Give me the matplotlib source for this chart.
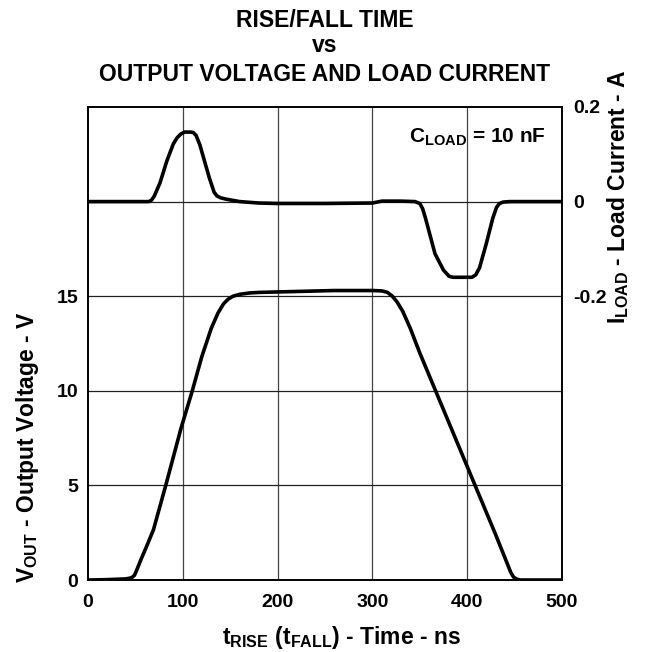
import numpy as np
import matplotlib.pyplot as plt

plt.rcParams['font.family'] = ['Liberation Sans', 'DejaVu Sans']
plt.rcParams['font.weight'] = 'bold'
plt.rcParams['mathtext.fontset'] = 'custom'
plt.rcParams['mathtext.rm'] = 'Liberation Sans:bold'
plt.rcParams['mathtext.it'] = 'Liberation Sans:bold'
plt.rcParams['mathtext.bf'] = 'Liberation Sans:bold'

# output voltage (V) vs time (ns)
t_v = [0, 20, 40, 46, 49, 52, 56, 62, 69, 82, 98, 110, 120, 130, 137, 143, 148, 153, 160, 170, 180, 220, 260,
       300, 310, 316, 321, 326, 332, 340, 350, 370, 390, 410, 430, 442, 446, 449, 452, 456, 480, 500]
v_out = [0, 0.02, 0.06, 0.12, 0.25, 0.6, 1.1, 1.8, 2.65, 5.0, 8.0, 10.0, 11.8, 13.3, 14.1, 14.6, 14.85, 15.0, 15.1, 15.17, 15.2, 15.25, 15.3,
         15.3, 15.28, 15.2, 15.0, 14.7, 14.2, 13.3, 12.0, 9.6, 7.2, 4.8, 2.4, 0.9, 0.4, 0.15, 0.05, 0.0, 0.0, 0.0]

# load current (A) vs time (ns)
t_i = [0, 40, 64, 67, 70, 76, 83, 90, 94, 98, 102, 108, 111, 114, 118, 122, 128, 133, 136, 140, 146, 160, 180, 200,
       250, 300, 310, 330, 345, 350, 353, 356, 360, 366, 375, 381, 385, 405, 409, 413, 420, 427, 431, 434, 438, 445, 470, 500]
i_load = [0, 0, 0, 0.003, 0.012, 0.04, 0.085, 0.122, 0.135, 0.143, 0.147, 0.147, 0.146, 0.14, 0.12, 0.092, 0.05, 0.02, 0.012, 0.008, 0.005, 0.0, -0.003, -0.004,
          -0.004, -0.003, 0.001, 0.001, 0.0, -0.004, -0.015, -0.035, -0.065, -0.11, -0.145, -0.158, -0.16, -0.16, -0.155, -0.14, -0.09, -0.035, -0.012, -0.004, -0.001, 0, 0, 0]

fig = plt.figure(figsize=(6.5, 6.52), dpi=100)
ax = fig.add_axes([0.1354, 0.1104, 0.7292, 0.7255])
ax2 = ax.twinx()

ax.plot(t_v, v_out, color='black', lw=2.6, solid_joinstyle='round', solid_capstyle='round')
ax2.plot(t_i, i_load, color='black', lw=2.6, solid_joinstyle='round', solid_capstyle='round')

ax.set_xlim(0, 500)
ax.set_ylim(0, 25)
ax2.set_ylim(-0.8, 0.2)

ax.set_xticks([0, 100, 200, 300, 400, 500])
ax.set_yticks([0, 5, 10, 15])
ax2.set_yticks([-0.2, 0, 0.2])
ax2.set_yticklabels(['-0.2', '0', '0.2'])

for x in [100, 200, 300, 400]:
    ax.axvline(x, color='#444444', lw=0.9, zorder=0)
for y in [5, 10, 15, 20]:
    ax.axhline(y, color='#222222', lw=0.9, zorder=0)

ax.tick_params(axis='x', length=0, labelsize=14, pad=10)
ax.tick_params(axis='y', length=0, labelsize=14, pad=7)
ax2.tick_params(length=0, labelsize=14, pad=8)
for a in (ax, ax2):
    for s in a.spines.values():
        s.set_linewidth(1.2)

ax.set_xlabel(r'$\mathregular{t_{RISE}\ (t_{FALL})}$ - Time - ns', fontsize=16.5, fontweight='bold')
ax.xaxis.set_label_coords(0.534, -0.092)
ax.set_ylabel(r'$\mathregular{V_{OUT}}$ - Output Voltage - V', fontsize=16.5, fontweight='bold', va='center')
ax.yaxis.set_label_coords(-0.128, 0.28)
ax2.set_ylabel(r'$\mathregular{I_{LOAD}}$ - Load Current - A', fontsize=16.5, fontweight='bold', va='center')
ax2.yaxis.set_label_coords(1.118, 0.81)

ax.text(0.965, 0.935, r'$\mathregular{C_{LOAD}}$ = 10 nF', transform=ax.transAxes,
        ha='right', va='center', fontsize=15, fontweight='bold')

fig.text(0.5, 0.969, 'RISE/FALL TIME', ha='center', va='center', fontsize=16.5, fontweight='bold')
fig.text(0.5, 0.930, 'vs', ha='center', va='center', fontsize=16.5, fontweight='bold')
fig.text(0.5, 0.885, 'OUTPUT VOLTAGE AND LOAD CURRENT', ha='center', va='center', fontsize=16.5, fontweight='bold')

fig.savefig('out.png', dpi=100)
